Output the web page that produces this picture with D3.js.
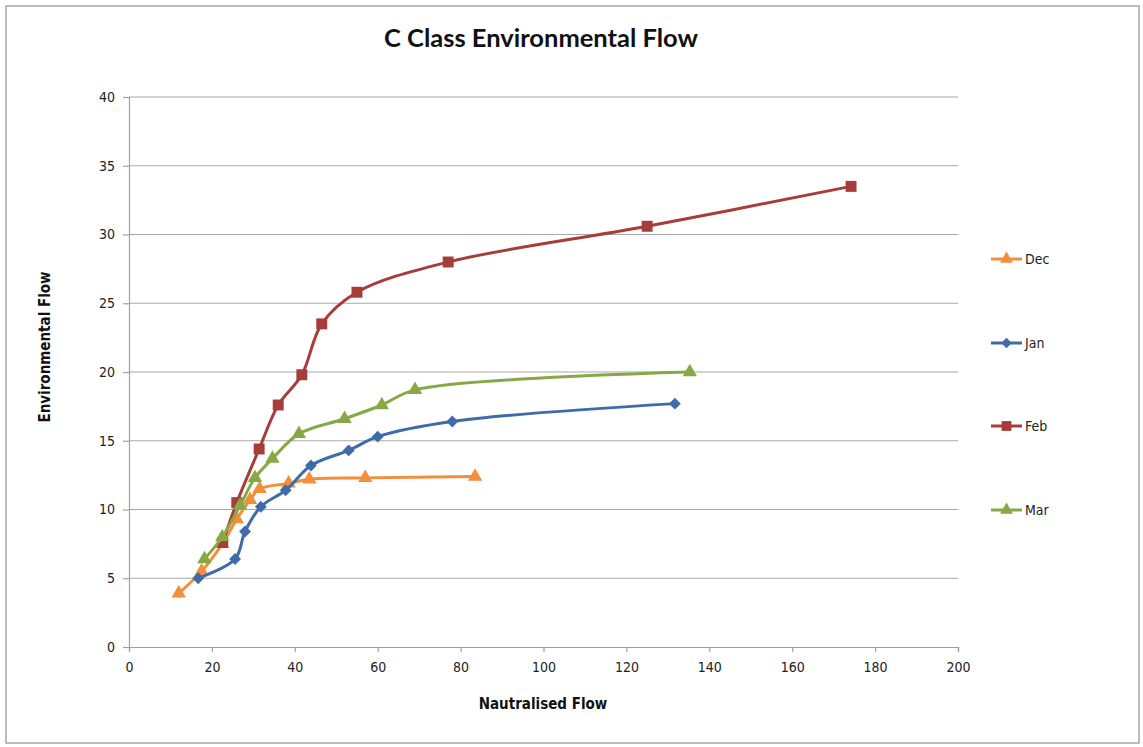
<!DOCTYPE html>
<html>
<head>
<meta charset="utf-8">
<script src="https://cdn.jsdelivr.net/npm/d3@7"></script>
<style>
  body { margin: 0; background: #fff; }
  text { font-family: "Liberation Sans Narrow", "DejaVu Sans Condensed", "Liberation Sans", sans-serif; }
</style>
</head>
<body>
<div id="chart"></div>
<script>
// Data
var seriesNames = ["Dec", "Jan", "Feb", "Mar"];
var decX = [12, 17.5, 22.5, 26, 29.2, 31.5, 38.5, 43.5, 57, 83.5];
var decY = [3.9, 5.5, 7.5, 9.3, 10.7, 11.5, 11.9, 12.2, 12.3, 12.4];
var janX = [16.7, 25.6, 28, 31.8, 37.8, 43.9, 53, 60, 78, 131.7];
var janY = [5, 6.4, 8.4, 10.2, 11.4, 13.2, 14.3, 15.3, 16.4, 17.7];
var febX = [22.6, 26, 31.4, 36, 41.7, 46.5, 55, 77, 125, 174.2];
var febY = [7.6, 10.5, 14.4, 17.6, 19.8, 23.5, 25.8, 28, 30.6, 33.5];
var marX = [18.2, 22.5, 26.8, 30.4, 34.6, 41, 52, 61, 69, 135.3];
var marY = [6.4, 8, 10.3, 12.3, 13.7, 15.5, 16.6, 17.6, 18.7, 20];
var xTicks = [0, 20, 40, 60, 80, 100, 120, 140, 160, 180, 200];
var yTicks = [0, 5, 10, 15, 20, 25, 30, 35, 40];

var colors = { Dec: "#F28E3C", Jan: "#3F6CA8", Feb: "#A63D3A", Mar: "#88A846" };
var shapes = { Dec: d3.symbolTriangle, Jan: d3.symbolSquare, Feb: d3.symbolSquare, Mar: d3.symbolTriangle };
var sizes = { Dec: 90, Jan: 70, Feb: 120, Mar: 90 };
var rotate = { Dec: 0, Jan: 45, Feb: 0, Mar: 0 };

var series = [
  { name: "Dec", xs: decX, ys: decY },
  { name: "Jan", xs: janX, ys: janY },
  { name: "Feb", xs: febX, ys: febY },
  { name: "Mar", xs: marX, ys: marY }
].map(function (s) {
  return { name: s.name, values: s.xs.map(function (x, i) { return { x: x, y: s.ys[i] }; }) };
});

var W = 1143, H = 747;
var margin = { top: 97, right: 185, bottom: 100, left: 129 };
var width = W - margin.left - margin.right;
var height = H - margin.top - margin.bottom;

var svg = d3.select("#chart").append("svg")
  .attr("width", W)
  .attr("height", H);

// outer frame
svg.append("rect")
  .attr("x", 6).attr("y", 6)
  .attr("width", W - 10).attr("height", H - 10)
  .attr("fill", "#fff")
  .attr("stroke", "#a6a6a6")
  .attr("stroke-width", 1.5);

var g = svg.append("g")
  .attr("transform", "translate(" + margin.left + "," + margin.top + ")");

var x = d3.scaleLinear().domain([0, 200]).range([0, width]);
var y = d3.scaleLinear().domain([0, 40]).range([height, 0]);

// gridlines
g.append("g")
  .selectAll("line")
  .data(yTicks.filter(function (d) { return d > 0; }))
  .enter().append("line")
  .attr("x1", 0).attr("x2", width)
  .attr("y1", function (d) { return y(d); })
  .attr("y2", function (d) { return y(d); })
  .attr("stroke", "#a8a8a8")
  .attr("stroke-width", 1.2);

// axes
var xAxis = g.append("g")
  .attr("transform", "translate(0," + height + ")")
  .call(d3.axisBottom(x).tickValues(xTicks).tickSize(5).tickPadding(10));
var yAxis = g.append("g")
  .call(d3.axisLeft(y).tickValues(yTicks).tickSize(6).tickPadding(8));

[xAxis, yAxis].forEach(function (a) {
  a.select(".domain").attr("stroke", "#a0a0a0").attr("stroke-width", 1.2);
  a.selectAll(".tick line").attr("stroke", "#a0a0a0").attr("stroke-width", 1.2);
  a.selectAll(".tick text").attr("fill", "#222").style("font-size", "14px");
});

// lines
var line = d3.line()
  .x(function (d) { return x(d.x); })
  .y(function (d) { return y(d.y); })
  .curve(d3.curveCatmullRom.alpha(0.5));

var sg = g.selectAll(".series")
  .data(series)
  .enter().append("g")
  .attr("class", "series");

sg.append("path")
  .attr("d", function (d) { return line(d.values); })
  .attr("fill", "none")
  .attr("stroke", function (d) { return colors[d.name]; })
  .attr("stroke-width", 3);

sg.each(function (s) {
  d3.select(this).selectAll("path.mark")
    .data(s.values)
    .enter().append("path")
    .attr("class", "mark")
    .attr("transform", function (d) {
      return "translate(" + x(d.x) + "," + y(d.y) + ") rotate(" + rotate[s.name] + ")";
    })
    .attr("d", d3.symbol().type(shapes[s.name]).size(sizes[s.name]))
    .attr("fill", colors[s.name]);
});

// titles
svg.append("text")
  .attr("x", 541).attr("y", 47)
  .attr("text-anchor", "middle")
  .style("font-family", "Lato, 'Open Sans', sans-serif")
  .style("font-size", "25.5px")
  .style("font-weight", "bold")
  .attr("fill", "#111")
  .text("C Class Environmental Flow");

svg.append("text")
  .attr("x", 543).attr("y", 709)
  .attr("text-anchor", "middle")
  .style("font-size", "15px")
  .style("font-weight", "bold")
  .attr("fill", "#111")
  .text("Nautralised  Flow");

svg.append("text")
  .attr("transform", "translate(50,347) rotate(-90)")
  .attr("text-anchor", "middle")
  .style("font-size", "15px")
  .style("font-weight", "bold")
  .attr("fill", "#111")
  .text("Environmental Flow");

// legend
var legendY = [259, 343, 426, 510];
var legend = svg.selectAll(".legend")
  .data(seriesNames)
  .enter().append("g")
  .attr("class", "legend")
  .attr("transform", function (d, i) { return "translate(991," + legendY[i] + ")"; });

legend.append("line")
  .attr("x1", 0).attr("x2", 31)
  .attr("stroke", function (d) { return colors[d]; })
  .attr("stroke-width", 3);
legend.append("path")
  .attr("transform", function (d) { return "translate(15.5,0) rotate(" + rotate[d] + ")"; })
  .attr("d", function (d) { return d3.symbol().type(shapes[d]).size(sizes[d] * 0.8)(); })
  .attr("fill", function (d) { return colors[d]; });
legend.append("text")
  .attr("x", 34).attr("dy", "0.35em")
  .style("font-size", "14px")
  .attr("fill", "#222")
  .text(function (d) { return d; });
</script>
</body>
</html>
